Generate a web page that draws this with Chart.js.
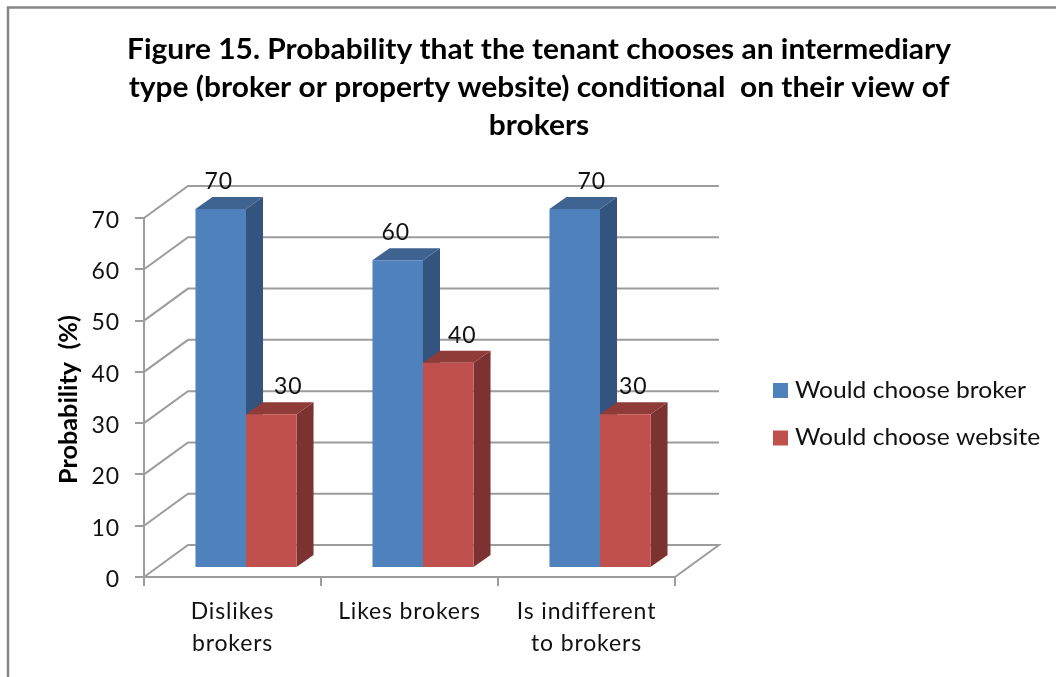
<!DOCTYPE html>
<html>
<head>
<meta charset="utf-8">
<title>Figure 15</title>
<script src="https://cdn.jsdelivr.net/npm/chart.js@4/dist/chart.umd.js"></script>
<style>
    html, body { margin: 0; padding: 0; background: #fff; overflow: hidden; }
    canvas { display: block; }
</style>
</head>
<body>
<canvas id="myChart" width="1056" height="677"></canvas>
<script>
const titleLines = [
    "Figure 15. Probability that the tenant chooses an intermediary",
    "type (broker or property website) conditional  on their view of",
    "brokers"
];
const yAxisTitle = "Probability  (%)";
const categories = [["Dislikes", "brokers"], "Likes brokers", ["Is indifferent", "to brokers"]];
const seriesNames = ["Would choose broker", "Would choose website"];
const brokerValues = [70, 60, 70];
const websiteValues = [30, 40, 30];
const yTicks = [0, 10, 20, 30, 40, 50, 60, 70];

const fontName = "Lato, sans-serif";
const textColor = "#111";
const lineColor = "#9c9c9c";

const frontColors = ["#4f81bd", "#c0504d"];
const sideColors = ["#33547f", "#7c3230"];
const topColors = ["#3e6390", "#8f3c39"];

// the back wall sits up and right of the axis plane, the bars sit between the two
const wallX = 44, wallY = -32;
const barX = 13.5, barY = -9;
const depthX = 17, depthY = -12;

// value labels were nudged by hand, one list per series
const labelShift = [[-2, -2, 17], [17, 14, 8]];

function polygon(ctx, points, color) {
    ctx.beginPath();
    points.forEach((p, i) => i === 0 ? ctx.moveTo(p[0], p[1]) : ctx.lineTo(p[0], p[1]));
    ctx.closePath();
    ctx.fillStyle = color;
    ctx.fill();
}

// text drawn a bit wider than the font's natural width
function wideText(ctx, text, x, y, stretch) {
    ctx.save();
    ctx.translate(x, y);
    ctx.scale(stretch, 1);
    ctx.fillText(text, 0, 0);
    ctx.restore();
}

function drawFrame(ctx) {
    ctx.strokeStyle = "#858585";
    ctx.lineWidth = 2.5;
    ctx.beginPath();
    ctx.moveTo(8, 677);
    ctx.lineTo(8, 7.5);
    ctx.lineTo(1056, 7.5);
    ctx.stroke();
}

function drawTexts(ctx) {
    ctx.fillStyle = "#000";
    ctx.textAlign = "center";
    ctx.textBaseline = "middle";
    ctx.font = "bold 28.5px " + fontName;
    titleLines.forEach((line, i) => wideText(ctx, line, 539, 50 + i * 38, 1.05));

    ctx.save();
    ctx.translate(69, 399.5);
    ctx.rotate(-Math.PI / 2);
    ctx.font = "bold 24px " + fontName;
    wideText(ctx, yAxisTitle, 0, 0, 1.05);
    ctx.restore();

    ctx.textAlign = "left";
    ctx.font = "23px " + fontName;
    seriesNames.forEach((name, i) => {
        const y = 390.5 + i * 47.5;
        ctx.fillStyle = frontColors[i];
        ctx.fillRect(773, y - 7.5, 15, 15);
        ctx.fillStyle = textColor;
        wideText(ctx, name, 795, y, 1.07);
    });
}

function drawWalls(chart) {
    const ctx = chart.ctx;
    const {left, right} = chart.chartArea;
    const yScale = chart.scales.y;
    ctx.strokeStyle = lineColor;
    ctx.lineWidth = 2;
    yTicks.forEach(v => {
        const y = yScale.getPixelForValue(v);
        ctx.beginPath();
        ctx.moveTo(left, y);
        ctx.lineTo(left + wallX, y + wallY);
        ctx.lineTo(right + wallX, y + wallY);
        if (v === 0) ctx.lineTo(right, y);
        ctx.stroke();
    });
}

function drawBarDepth(chart) {
    const ctx = chart.ctx;
    chart.data.datasets.forEach((ds, d) => {
        chart.getDatasetMeta(d).data.forEach(bar => {
            const l = bar.x - bar.width / 2 + barX;
            const r = bar.x + bar.width / 2 + barX;
            const t = bar.y + barY;
            const b = bar.base + barY;
            polygon(ctx, [[r, t], [r + depthX, t + depthY], [r + depthX, b + depthY], [r, b]], sideColors[d]);
            polygon(ctx, [[l, t], [l + depthX, t + depthY], [r + depthX, t + depthY], [r, t]], topColors[d]);
        });
    });
}

function drawValueLabels(chart) {
    const ctx = chart.ctx;
    ctx.font = "23px " + fontName;
    ctx.fillStyle = textColor;
    ctx.textAlign = "center";
    ctx.textBaseline = "middle";
    chart.data.datasets.forEach((ds, d) => {
        chart.getDatasetMeta(d).data.forEach((bar, i) => {
            ctx.fillText(ds.data[i], bar.x + barX + labelShift[d][i], bar.y + barY + depthY - 15.5);
        });
    });
}

const boxes3d = {
    id: "boxes3d",
    afterLayout(chart) {
        // Lato sits high on the middle baseline, pull the y tick labels down
        chart.scales.y.getLabelItems().forEach(item => { item.options.translation[1] += 2.5; });
    },
    beforeDraw(chart) {
        drawFrame(chart.ctx);
        drawTexts(chart.ctx);
        drawWalls(chart);
        // axis labels use the same wider look as the other texts
        chart.ctx.letterSpacing = "0.85px";
    },
    beforeDatasetsDraw(chart) {
        drawBarDepth(chart);
        chart.ctx.save();
        chart.ctx.translate(barX, barY);
    },
    afterDatasetsDraw(chart) {
        chart.ctx.restore();
        drawValueLabels(chart);
    }
};

new Chart(document.getElementById("myChart"), {
    type: "bar",
    data: {
        labels: categories,
        datasets: [
            {label: seriesNames[0], data: brokerValues, backgroundColor: frontColors[0]},
            {label: seriesNames[1], data: websiteValues, backgroundColor: frontColors[1]}
        ]
    },
    options: {
        responsive: false,
        animation: false,
        layout: {padding: {left: 0, right: 381, top: 218, bottom: 0}},
        datasets: {bar: {categoryPercentage: 0.571, barPercentage: 1, clip: false}},
        plugins: {legend: {display: false}, title: {display: false}, tooltip: {enabled: false}},
        scales: {
            x: {
                grid: {drawOnChartArea: false, color: lineColor, lineWidth: 2, tickLength: 9, offset: true},
                border: {color: lineColor, width: 2},
                ticks: {
                    color: textColor,
                    font: {family: fontName, size: 23, lineHeight: 1.39},
                    padding: 10,
                    maxRotation: 0,
                    autoSkip: false
                },
                afterFit(scale) { scale.height = 100; }
            },
            y: {
                min: 0,
                max: 70,
                grid: {drawOnChartArea: false, color: lineColor, lineWidth: 2, tickLength: 9},
                border: {color: lineColor, width: 2},
                ticks: {
                    stepSize: 10,
                    color: textColor,
                    font: {family: fontName, size: 23},
                    padding: 15
                },
                afterFit(scale) { scale.width = 144; }
            }
        }
    },
    plugins: [boxes3d]
});
</script>
</body>
</html>
